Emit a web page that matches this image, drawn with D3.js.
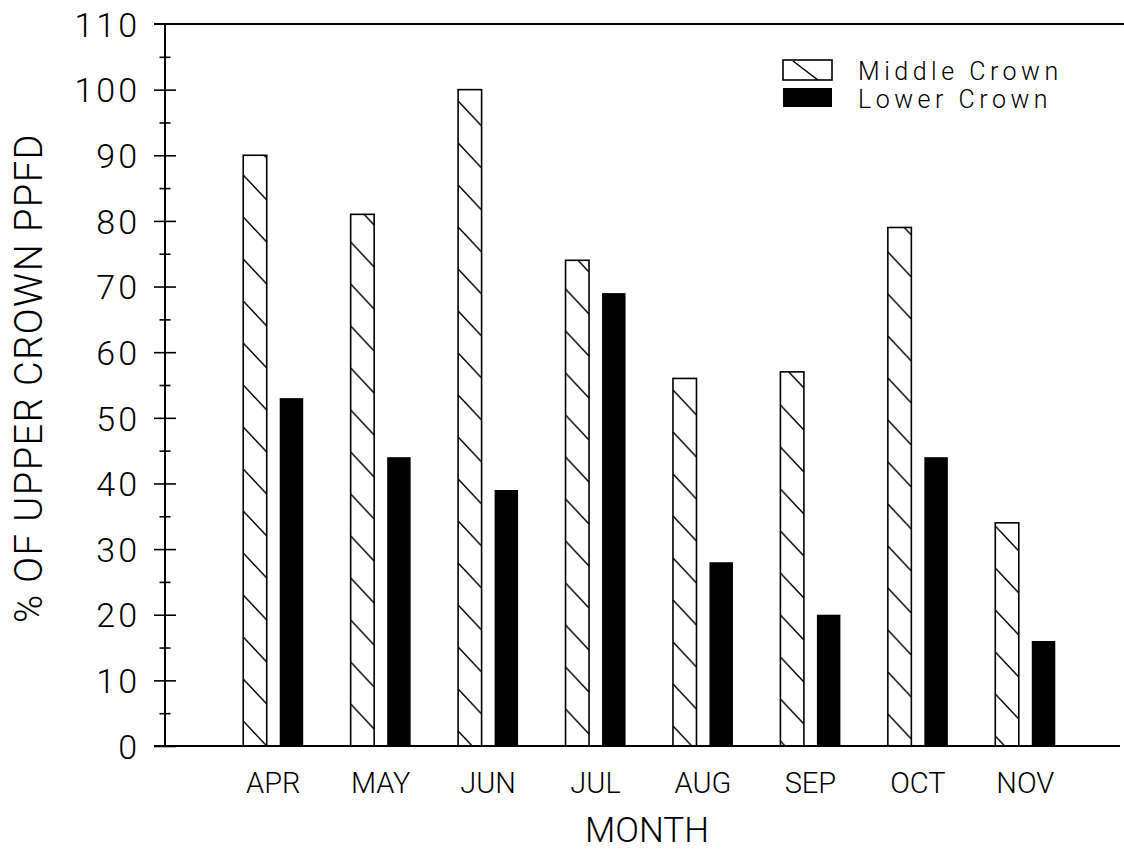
<!DOCTYPE html>
<html>
<head>
<meta charset="utf-8">
<script src="https://cdn.jsdelivr.net/npm/d3@7"></script>
<style>
  html, body { margin: 0; padding: 0; background: #fff; }
  svg text { font-family: Roboto, "Liberation Sans", sans-serif; font-weight: 300; fill: #000; }
</style>
</head>
<body>
<svg id="chart" width="1124" height="852"></svg>
<script>
// data
const months = ['APR', 'MAY', 'JUN', 'JUL', 'AUG', 'SEP', 'OCT', 'NOV'];
const middleCrown = [90, 81, 100, 74, 56, 57, 79, 34];
const lowerCrown = [53, 44, 39, 69, 28, 20, 44, 16];
const seriesNames = ['Middle Crown', 'Lower Crown'];
const yTicks = [0, 10, 20, 30, 40, 50, 60, 70, 80, 90, 100, 110];

const svg = d3.select('#chart');

const y = d3.scaleLinear().domain([0, 110]).range([746, 24]);
const x = d3.scaleBand().domain(months).range([219.5, 1079]);
const bw = x.bandwidth();
const x1 = d3.scaleBand().domain(seriesNames)
  .range([bw / 2 - 30, bw / 2 + 30])
  .paddingInner(0.356);

const rows = months.map((m, i) => ({ month: m, mid: middleCrown[i], low: lowerCrown[i] }));

// hatch pattern, one per bar so the diagonals start at each bar's left edge
const defs = svg.append('defs');
const HATCH_H = 42;
const phase = [0, 25, 10, 30, 5, 20, 35, 15];  // the scanned hatching isn't aligned between bars
rows.forEach(function(d, i) {
  const bx = x(d.month) + x1('Middle Crown');
  const w = x1.bandwidth();
  const p = defs.append('pattern')
    .attr('id', 'hatch' + i)
    .attr('patternUnits', 'userSpaceOnUse')
    .attr('x', bx).attr('y', y(0) + phase[i])
    .attr('width', w).attr('height', HATCH_H);
  p.append('rect').attr('width', w).attr('height', HATCH_H).attr('fill', '#fff');
  [-HATCH_H, 0].forEach(function(k) {
    p.append('line')
      .attr('x1', 0).attr('y1', 17 + k)
      .attr('x2', w).attr('y2', 42 + k)
      .attr('stroke', '#000').attr('stroke-width', 1.5);
  });
});
const lp = defs.append('pattern')
  .attr('id', 'hatchLegend')
  .attr('patternUnits', 'userSpaceOnUse')
  .attr('x', 783).attr('y', 60).attr('width', 49).attr('height', 20);
lp.append('line').attr('x1', 10).attr('y1', 1).attr('x2', 35).attr('y2', 20)
  .attr('stroke', '#000').attr('stroke-width', 1.5);

// bars
const g = svg.append('g');
g.selectAll('rect.mid')
  .data(rows)
  .join('rect')
  .attr('class', 'mid')
  .attr('x', d => x(d.month) + x1('Middle Crown'))
  .attr('y', d => y(d.mid))
  .attr('width', x1.bandwidth())
  .attr('height', d => y(0) - y(d.mid))
  .attr('fill', (d, i) => 'url(#hatch' + i + ')')
  .attr('stroke', '#000')
  .attr('stroke-width', 1.6);

g.selectAll('rect.low')
  .data(rows)
  .join('rect')
  .attr('class', 'low')
  .attr('x', d => x(d.month) + x1('Lower Crown'))
  .attr('y', d => y(d.low))
  .attr('width', x1.bandwidth())
  .attr('height', d => y(0) - y(d.low))
  .attr('fill', '#000');

// y axis, ticks on both sides of the line
const axisX = 165;
const yAxisL = d3.axisLeft(y).tickValues(yTicks).tickSize(11).tickPadding(14);
const yAxisR = d3.axisRight(y).tickValues(yTicks.slice(0, -1)).tickSize(11).tickFormat('');
const minor = d3.range(5, 110, 10);

const gY = svg.append('g').attr('transform', 'translate(' + axisX + ',0)').call(yAxisL);
svg.append('g').attr('transform', 'translate(' + axisX + ',0)').call(yAxisR);
svg.append('g').attr('transform', 'translate(' + axisX + ',0)')
  .call(d3.axisLeft(y).tickValues(minor).tickSize(5.5).tickFormat(''));
svg.append('g').attr('transform', 'translate(' + axisX + ',0)')
  .call(d3.axisRight(y).tickValues(minor).tickSize(5.5).tickFormat(''));

svg.selectAll('.domain').remove();
svg.selectAll('.tick line').attr('stroke', '#000').attr('stroke-width', 1.6);
gY.selectAll('.tick text')
  .attr('font-size', 34)
  .attr('letter-spacing', 3)
  .attr('dy', '0.36em');
gY.selectAll('.tick').filter(d => d === 110).select('line').remove();

svg.append('line')
  .attr('x1', axisX).attr('x2', axisX)
  .attr('y1', y(110)).attr('y2', y(0))
  .attr('stroke', '#000').attr('stroke-width', 2);

// top frame line and baseline
svg.append('line')
  .attr('x1', 154).attr('x2', 1124)
  .attr('y1', y(110)).attr('y2', y(110))
  .attr('stroke', '#000').attr('stroke-width', 1.8);
svg.append('line')
  .attr('x1', 154).attr('x2', 1120)
  .attr('y1', y(0)).attr('y2', y(0))
  .attr('stroke', '#000').attr('stroke-width', 2);

// x axis labels
const gX = svg.append('g')
  .attr('transform', 'translate(0,' + y(0) + ')')
  .call(d3.axisBottom(x).tickSize(0).tickPadding(0));
gX.select('.domain').remove();
gX.selectAll('.tick text')
  .attr('font-size', 29)
  .attr('y', 47)
  .attr('dy', 0);

// axis titles
svg.append('text')
  .attr('transform', 'translate(42,378) rotate(-90)')
  .attr('text-anchor', 'middle')
  .attr('font-size', 38)
  .attr('letter-spacing', 1.5)
  .text('% OF UPPER CROWN PPFD');

svg.append('text')
  .attr('x', 647).attr('y', 842)
  .attr('text-anchor', 'middle')
  .attr('font-size', 35)
  .text('MONTH');

// legend
const legend = svg.append('g');
legend.append('rect')
  .attr('x', 783).attr('y', 60).attr('width', 49).attr('height', 20)
  .attr('fill', 'url(#hatchLegend)')
  .attr('stroke', '#000').attr('stroke-width', 1.6);
legend.append('rect')
  .attr('x', 783).attr('y', 88).attr('width', 49).attr('height', 19)
  .attr('fill', '#000');
legend.selectAll('text')
  .data(seriesNames)
  .join('text')
  .attr('x', 858)
  .attr('y', (d, i) => 80 + i * 28)
  .attr('font-size', 25)
  .attr('letter-spacing', 4.5)
  .text(d => d);
</script>
</body>
</html>
